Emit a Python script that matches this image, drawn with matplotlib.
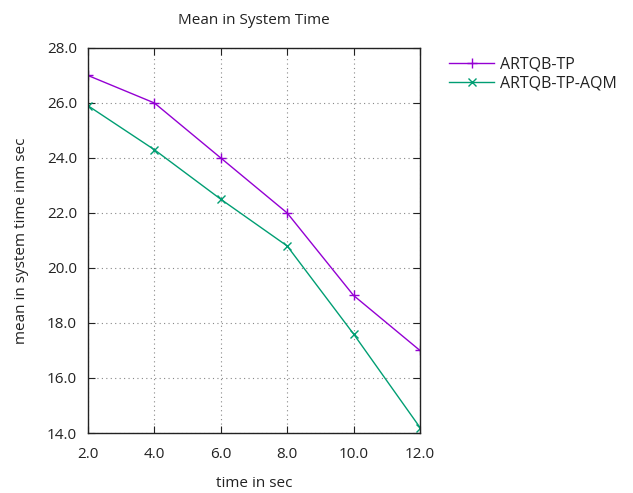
import matplotlib
matplotlib.use("Agg")
import matplotlib.pyplot as plt

plt.rcParams['font.family'] = ['Open Sans', 'DejaVu Sans']

time_sec = [2.0, 4.0, 6.0, 8.0, 10.0, 12.0]
artqb_tp = [27.0, 26.0, 24.0, 22.0, 19.0, 17.0]
artqb_tp_aqm = [25.9, 24.3, 22.5, 20.8, 17.6, 14.2]
x_ticks = [2.0, 4.0, 6.0, 8.0, 10.0, 12.0]
y_ticks = [14.0, 16.0, 18.0, 20.0, 22.0, 24.0, 26.0, 28.0]

fig = plt.figure(figsize=(6.33, 4.93), dpi=100)
ax = fig.add_axes([0.139, 0.1217, 0.5245, 0.781])

ax.plot(time_sec, artqb_tp, color='#9400d3', marker='+', markersize=7, lw=1, label='ARTQB-TP')
ax.plot(time_sec, artqb_tp_aqm, color='#009e73', marker='x', markersize=6, lw=1, label='ARTQB-TP-AQM')

ax.set_xlim(2, 12)
ax.set_ylim(14, 28)
ax.set_xticks(x_ticks)
ax.set_yticks(y_ticks)
ax.set_xticklabels([f"{v:.1f}" for v in x_ticks])
ax.set_yticklabels([f"{v:.1f}" for v in y_ticks])
ax.tick_params(direction='in', top=True, right=True, length=5, labelsize=11, colors='#222222')
ax.tick_params(axis='x', pad=10)
ax.tick_params(axis='y', pad=8)
ax.grid(True, linestyle=(0, (1, 3)), color='#888888', lw=0.8)
for s in ax.spines.values():
    s.set_color('#222222')
    s.set_linewidth(1)

ax.set_title('Mean in System Time', fontsize=11, pad=17, color='#222222')
ax.set_xlabel('time in sec', fontsize=11, labelpad=10, color='#222222')
ax.set_ylabel('mean in system time inm sec', fontsize=11, labelpad=13, color='#222222')

leg = ax.legend(loc='upper left', bbox_to_anchor=(1.045, 1.015), frameon=False, fontsize=11.5,
                handlelength=2.8, handletextpad=0.35, labelspacing=0.2)
for t in leg.get_texts():
    t.set_color('#222222')

fig.savefig('out.png', dpi=100)
